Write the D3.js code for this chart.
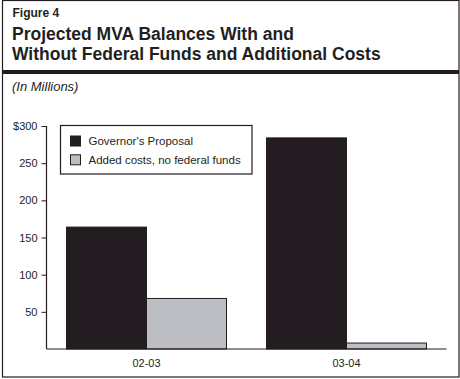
<!DOCTYPE html>
<html>
<head>
<meta charset="utf-8">
<script src="https://d3js.org/d3.v7.min.js"></script>
<style>
  html, body { margin: 0; padding: 0; background: #fff; }
  svg { display: block; }
  text { font-family: "Liberation Sans", Arial, Helvetica, sans-serif; fill: #231f20; }
</style>
</head>
<body>
<script>
// ---- Data ----
const categories = ["02-03", "03-04"];
const seriesNames = ["Governor's Proposal", "Added costs, no federal funds"];
const governorsProposal = [164, 284];
const addedCostsNoFederal = [68, 8];
const yTickValues = [50, 100, 150, 200, 250, 300];
const yTickLabels = ["50", "100", "150", "200", "250", "$300"];
const figureLabel = "Figure 4";
const titleLines = ["Projected MVA Balances With and", "Without Federal Funds and Additional Costs"];
const unitsLabel = "(In Millions)";

// ---- Layout ----
const W = 460, H = 379;
const dark = "#231c21";
const gray = "#bdbec4";

const svg = d3.select("body").append("svg").attr("width", W).attr("height", H);

// frame
svg.append("rect").attr("x", 2.5).attr("y", 0.5).attr("width", 456.5).attr("height", 376.5)
  .attr("fill", "none").attr("stroke", dark).attr("stroke-width", 1.2);

// header
svg.append("text").attr("x", 12.5).attr("y", 16.5).attr("font-size", 12).attr("font-weight", "bold").text(figureLabel);
svg.selectAll("text.title").data(titleLines).enter().append("text").attr("class", "title")
  .attr("x", 12).attr("y", (d, i) => 40 + i * 19.5)
  .attr("font-size", 17.5).attr("font-weight", "bold").text(d => d);
svg.append("rect").attr("x", 2.5).attr("y", 70).attr("width", 456.5).attr("height", 4).attr("fill", dark);
svg.append("text").attr("x", 12).attr("y", 91).attr("font-size", 13).attr("font-style", "italic").text(unitsLabel);

// scales
const x0 = d3.scaleBand().domain(categories).range([46.5, 446.5]).paddingInner(0.2).paddingOuter(0.1);
const x1 = d3.scaleBand().domain([0, 1]).range([0, x0.bandwidth()]);
const y = d3.scaleLinear().domain([0, 300]).range([349, 126]);

const series = [governorsProposal, addedCostsNoFederal];
const fills = [dark, gray];

// bars
series.forEach((vals, si) => {
  svg.append("g").selectAll("rect").data(vals).enter().append("rect")
    .attr("x", (d, i) => x0(categories[i]) + x1(si))
    .attr("y", d => y(d))
    .attr("width", x1.bandwidth())
    .attr("height", d => y(0) - y(d))
    .attr("fill", fills[si])
    .attr("stroke", dark).attr("stroke-width", 1);
});

// y axis
const yAxis = d3.axisLeft(y).tickValues(yTickValues).tickSize(5).tickPadding(4)
  .tickFormat((d, i) => yTickLabels[i]);
const gy = svg.append("g").attr("transform", "translate(46.5,0)").call(yAxis);
gy.select(".domain").attr("stroke", dark).attr("stroke-width", 1.2).attr("d", `M0,${y(300)}V${y(0)}`);
gy.selectAll(".tick line").attr("stroke", dark);
gy.selectAll(".tick text").attr("font-size", 11).attr("font-family", "'Liberation Sans', Arial, sans-serif").attr("fill", dark);

// x axis
const xAxis = d3.axisBottom(x0).tickSize(0).tickPadding(10);
const gx = svg.append("g").attr("transform", `translate(0,${y(0)})`).call(xAxis);
gx.select(".domain").attr("stroke", dark).attr("stroke-width", 1.2).attr("d", `M46.5,0H446.5`);
gx.selectAll(".tick text").attr("font-size", 11).attr("font-family", "'Liberation Sans', Arial, sans-serif").attr("fill", dark);

// legend
const lg = svg.append("g");
lg.append("rect").attr("x", 60.5).attr("y", 125.5).attr("width", 191.5).attr("height", 48.5)
  .attr("fill", "#fff").attr("stroke", dark).attr("stroke-width", 1.2);
seriesNames.forEach((name, i) => {
  lg.append("rect").attr("x", 70.5).attr("y", 136 + i * 18.8).attr("width", 10).attr("height", 10)
    .attr("fill", fills[i]).attr("stroke", dark).attr("stroke-width", 1);
  lg.append("text").attr("x", 88.5).attr("y", 144.8 + i * 18.8).attr("font-size", 11.5).text(name);
});
</script>
</body>
</html>
